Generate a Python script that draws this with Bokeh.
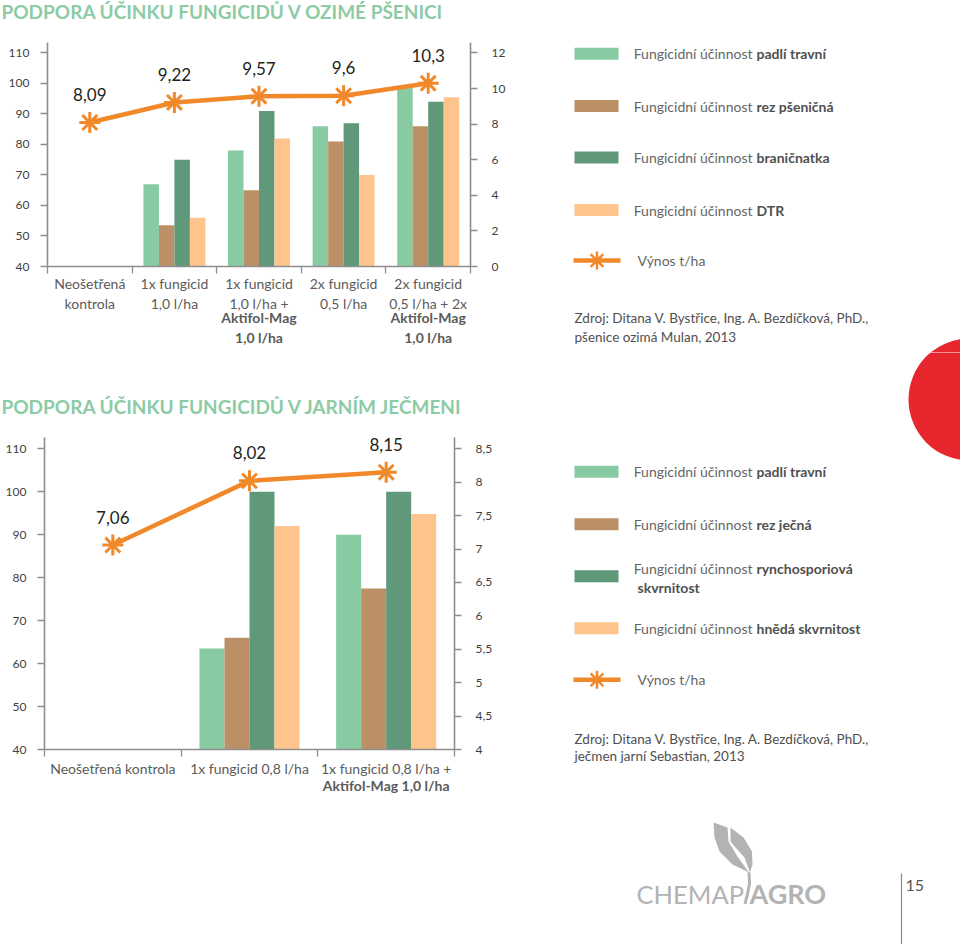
from bokeh.plotting import figure
from bokeh.models import Range1d, LinearAxis, FixedTicker
from bokeh.layouts import column, row
from bokeh.core.properties import value
from bokeh.embed import file_html
from bokeh.resources import INLINE

# ---------------- data: winter wheat ----------------
wheat_title = "PODPORA ÚČINKU FUNGICIDŮ V OZIMÉ PŠENICI"
wheat_labels_regular = ["Neošetřená\nkontrola", "1x fungicid\n1,0 l/ha", "1x fungicid\n1,0 l/ha +",
                        "2x fungicid\n0,5 l/ha", "2x fungicid\n0,5 l/ha + 2x"]
wheat_labels_bold = ["", "", "Aktifol-Mag\n1,0 l/ha", "", "Aktifol-Mag\n1,0 l/ha"]
wheat_padli = [None, 67, 78, 86, 99]
wheat_rez = [None, 53.5, 65, 81, 86]
wheat_branicnatka = [None, 75, 91, 87, 94]
wheat_dtr = [None, 56, 82, 70, 95.5]
wheat_yield = [8.09, 9.22, 9.57, 9.6, 10.3]
wheat_left_ticks = [40, 50, 60, 70, 80, 90, 100, 110]
wheat_right_ticks = [0, 2, 4, 6, 8, 10, 12]
wheat_legend_bold = ["padlí travní", "rez pšeničná", "braničnatka", "DTR"]
wheat_source = ["Zdroj: Ditana V. Bystřice, Ing. A. Bezdíčková, PhD.,", "pšenice ozimá Mulan, 2013"]

# ---------------- data: spring barley ----------------
barley_title = "PODPORA ÚČINKU FUNGICIDŮ V JARNÍM JEČMENI"
barley_labels_regular = ["Neošetřená kontrola", "1x fungicid 0,8 l/ha", "1x fungicid 0,8 l/ha +"]
barley_labels_bold = ["", "", "Aktifol-Mag 1,0 l/ha"]
barley_padli = [None, 63.5, 90]
barley_rez = [None, 66, 77.5]
barley_rhyncho = [None, 100, 100]
barley_hneda = [None, 92, 94.8]
barley_yield = [7.06, 8.02, 8.15]
barley_left_ticks = [40, 50, 60, 70, 80, 90, 100, 110]
barley_right_ticks = [4, 4.5, 5, 5.5, 6, 6.5, 7, 7.5, 8, 8.5]
barley_legend_bold = ["padlí travní", "rez ječná", "rynchosporiová", "hnědá skvrnitost"]
barley_source = ["Zdroj: Ditana V. Bystřice, Ing. A. Bezdíčková, PhD.,", "ječmen jarní Sebastian, 2013"]

legend_regular = "Fungicidní účinnost"
legend_yield = "Výnos t/ha"

# ---------------- styles ----------------
FONT = "Lato"
C_PADLI = "#88CBA2"
C_REZ = "#BC9067"
C_DARK = "#5F9979"
C_PEACH = "#FDC48C"
ORANGE = "#F1892B"
AXIS = "#8E8E8E"
TICK_TXT = "#3F3F3F"
CAT_TXT = "#5B5B5B"
LEG_TXT = "#666666"
LEG_BOLD = "#505050"
TITLE_C = "#8CCBA5"
RED = "#E8262D"
LOGO = "#B3B3B3"
COLORS = [C_PADLI, C_REZ, C_DARK, C_PEACH]


def fmt(v):
    return ("%g" % v).replace(".", ",")


def make_chart(W, H, bl, br, bt, bb, left_range, right_range, left_ticks, right_ticks,
               series, yields, reg_labels, bold_labels, left_standoff, right_standoff,
               cat_standoff, bold_standoff):
    n = len(yields)
    p = figure(width=W, height=H, min_border_left=bl, min_border_right=br,
               min_border_top=bt, min_border_bottom=bb,
               x_range=Range1d(0, n), y_range=Range1d(*left_range),
               x_axis_location=None, y_axis_location=None, frame_align=False,
               toolbar_location=None, output_backend="svg", outline_line_color=None)
    p.grid.visible = False
    p.extra_y_ranges = {"yield": Range1d(*right_range)}
    bw = 0.183
    for k, (vals, col) in enumerate(zip(series, COLORS)):
        idx = [i for i, v in enumerate(vals) if v is not None]
        p.vbar(x=[i + 0.5 + (k - 1.5) * bw for i in idx], top=[vals[i] for i in idx],
               bottom=left_range[0], width=bw, fill_color=col, line_color=None)
    xc = [i + 0.5 for i in range(n)]
    p.line(xc, yields, y_range_name="yield", line_color=ORANGE, line_width=4.5)
    p.scatter(xc, yields, y_range_name="yield", marker="asterisk", size=21,
              line_color=ORANGE, line_width=3)
    p.text(xc, yields, text=[fmt(v) for v in yields], y_range_name="yield", y_offset=-28,
           text_align="center", text_baseline="middle", text_font=value(FONT),
           text_font_size="17px", text_color="#231F20")

    la = LinearAxis(ticker=FixedTicker(ticks=left_ticks), axis_line_color=AXIS, axis_line_width=1.6,
                    major_tick_out=7, major_tick_in=0, major_tick_line_color=AXIS,
                    major_tick_line_width=1.3, minor_tick_line_color=None,
                    major_label_standoff=left_standoff, major_label_text_font=FONT,
                    major_label_text_font_size="12px", major_label_text_color=TICK_TXT)
    p.add_layout(la, "left")
    ra = LinearAxis(y_range_name="yield", ticker=FixedTicker(ticks=right_ticks),
                    major_label_overrides={t: fmt(t) for t in right_ticks},
                    axis_line_color=AXIS, axis_line_width=1.6,
                    major_tick_out=7, major_tick_in=0, major_tick_line_color=AXIS,
                    major_tick_line_width=1.3, minor_tick_line_color=None,
                    major_label_standoff=right_standoff, major_label_text_font=FONT,
                    major_label_text_font_size="12px", major_label_text_color=TICK_TXT)
    p.add_layout(ra, "right")

    bounds = list(range(n + 1))
    xa = LinearAxis(ticker=FixedTicker(ticks=xc, minor_ticks=bounds),
                    major_label_overrides=dict(zip(xc, reg_labels)),
                    axis_line_color=AXIS, axis_line_width=1.6,
                    major_tick_line_color=None, major_tick_out=0, major_tick_in=0,
                    minor_tick_line_color=AXIS, minor_tick_line_width=1.3,
                    minor_tick_out=7, minor_tick_in=0,
                    major_label_standoff=cat_standoff, major_label_text_font=FONT,
                    major_label_text_font_size="14px", major_label_text_color=CAT_TXT)
    p.add_layout(xa, "below")
    bt_ticks = [c for c, l in zip(xc, bold_labels) if l]
    xb = LinearAxis(ticker=FixedTicker(ticks=bt_ticks),
                    major_label_overrides={c: l for c, l in zip(xc, bold_labels) if l},
                    axis_line_color=None, major_tick_line_color=None, minor_tick_line_color=None,
                    major_tick_out=0, major_tick_in=0, major_label_standoff=bold_standoff,
                    major_label_text_font=FONT, major_label_text_font_style="bold",
                    major_label_text_font_size="14px", major_label_text_color=CAT_TXT)
    p.add_layout(xb, "below")
    return p


def deco(x0, x1, y0, y1):
    p = figure(width=x1 - x0, height=y1 - y0, x_range=Range1d(x0, x1), y_range=Range1d(-y1, -y0),
               min_border=0, x_axis_location=None, y_axis_location=None, frame_align=False,
               toolbar_location=None, output_backend="svg", outline_line_color=None)
    p.grid.visible = False
    return p


def txt(p, x, y, s, size, color, bold=False, align="left", baseline="middle"):
    p.text(x=[x], y=[-y], text=[s], text_font=value(FONT), text_font_size=size,
           text_font_style="bold" if bold else "normal", text_color=color,
           text_align=align, text_baseline=baseline)


def legend(p, sw_y, txt_y, bold_labels, extra, line_y, src, src_y):
    p.quad(left=574, right=618, top=[-(y - 6) for y in sw_y], bottom=[-(y + 6) for y in sw_y],
           fill_color=COLORS, line_color=None)
    for y, b in zip(txt_y, bold_labels):
        txt(p, 752, y, legend_regular, "14px", LEG_TXT, align="right")
        txt(p, 756, y, b, "14px", LEG_BOLD, bold=True)
    for (x, y, s) in extra:
        txt(p, x, y, s, "14px", LEG_BOLD, bold=True)
    p.line([573, 620], [-line_y, -line_y], line_color=ORANGE, line_width=4.5)
    p.scatter([596.5], [-line_y], marker="asterisk", size=18, line_color=ORANGE, line_width=2.5)
    txt(p, 637, line_y, legend_yield, "14px", LEG_TXT)
    for s, y in zip(src, src_y):
        txt(p, 574, y, s, "13.5px", LEG_BOLD)
    p.circle(x=[969], y=[-399], radius=61, fill_color=RED, line_color=None)


# ---------------- row 0: title 1 ----------------
t1 = deco(0, 960, 0, 36)
txt(t1, 1, 11, wheat_title, "19px", TITLE_C, bold=True)

# ---------------- row 1: wheat chart + legend ----------------
c1 = make_chart(545, 316, 47, 75, 6, 86, (40, 113.44), (0, 12.59), wheat_left_ticks, wheat_right_ticks,
                [wheat_padli, wheat_rez, wheat_branicnatka, wheat_dtr], wheat_yield,
                wheat_labels_regular, wheat_labels_bold, 11, 14, 1, -6)
l1 = deco(545, 960, 36, 352)
legend(l1, [53.3, 105.5, 157, 209.5], [53.3, 105.5, 157, 209.5], wheat_legend_bold, [], 260,
       wheat_source, [317, 336])

# ---------------- row 2: barley title + chart + legend ----------------
t2 = deco(0, 545, 352, 428)
txt(t2, 1, 406, barley_title, "19px", TITLE_C, bold=True)
c2 = make_chart(545, 382, 44, 91, 9, 61, (40, 112.63), (4, 8.669), barley_left_ticks, barley_right_ticks,
                [barley_padli, barley_rez, barley_rhyncho, barley_hneda], barley_yield,
                barley_labels_regular, barley_labels_bold, 11, 14, 3, -3)
l2 = deco(545, 960, 352, 810)
legend(l2, [471.3, 523.7, 575.7, 627.8], [471.3, 523.7, 568.3, 627.8], barley_legend_bold,
       [(637, 586.7, "skvrnitost")], 679.3, barley_source, [738.3, 755])

# ---------------- row 3: footer ----------------
f = deco(0, 960, 810, 944)
leaf_l = [(713, 822), (727, 827), (728, 841), (737, 856), (748.5, 872), (732, 864),
          (719, 851), (714, 837)]
leaf_r = [(730, 827), (743, 837), (751.5, 851), (752, 864), (749.5, 872), (744, 857),
          (735, 847), (730, 841)]
f.patches([[x for x, _ in leaf_l], [x for x, _ in leaf_r]], [[-y for _, y in leaf_l], [-y for _, y in leaf_r]],
          fill_color=LOGO, line_color=None)
f.line([748.5, 749, 747, 744.5], [-871.7, -883.3, -893.3, -903.3], line_color=LOGO, line_width=3)
txt(f, 636, 893, "CHEMAP", "25.5px", LOGO, baseline="alphabetic")
txt(f, 749, 893, "AGRO", "27px", LOGO, bold=True, baseline="alphabetic")
f.line([901, 901], [-873, -944], line_color="#8A8A8A", line_width=1.2)
txt(f, 905, 885, "15", "16px", "#555555")

layout = column(t1, row(c1, l1), row(column(t2, c2), l2), f)
open("out.html", "w").write(file_html(layout, INLINE))
